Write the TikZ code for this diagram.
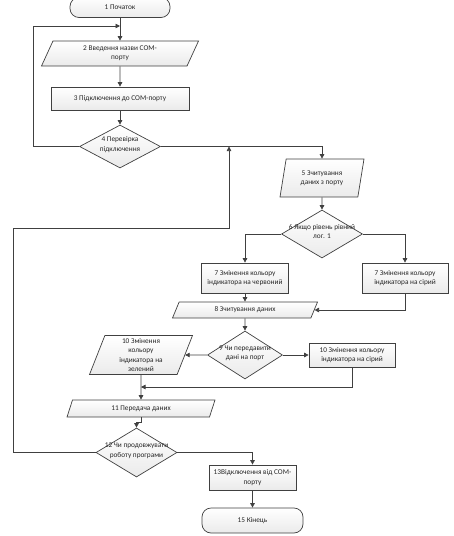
\documentclass[tikz,border=0pt]{standalone}
\usepackage{fontspec}
\setmainfont{Carlito}
\usetikzlibrary{shapes.geometric,arrows.meta}

\definecolor{edgegray}{HTML}{404040}
\newcommand{\dtext}[1]{\smash{\makebox[0pt]{\begin{tabular}{@{}c@{}}#1\end{tabular}}}}
\tikzset{
    blk/.style={draw=edgegray, line width=0.7pt, top color=white, bottom color=gray!16,
        font=\fontsize{7.3}{9.3}\selectfont, text=black!85, align=center, inner sep=0pt},
    proc/.style={blk, rectangle},
    io/.style={blk, trapezium, trapezium stretches body},
    decide/.style={blk, diamond},
    term/.style={blk, rectangle, rounded corners=9pt},
    flow/.style={draw=edgegray, line width=0.7pt, -{Triangle[width=4.5pt,length=4.5pt]}}
}

\begin{document}
\begin{tikzpicture}[x=1pt,y=-1pt]
            \useasboundingbox (0,0) rectangle (454,536);
            \node[term, minimum width=100pt, minimum height=20pt] (start) at (120,7.5) {1 Початок};
            \node[io, trapezium left angle=53, trapezium right angle=127,
                minimum width=157pt, minimum height=25pt] (n2) at (120,53.5) {2 Введення назви COM-\\порту};
            \node[proc, minimum width=138pt, minimum height=23pt] (n3) at (120,98.5) {3 Підключення до COM-порту};
            \node[decide, minimum width=81pt, minimum height=43pt] (d4) at (120,146.5) {\dtext{4 Перевірка\\підключення}};
            \node[io, trapezium left angle=68, trapezium right angle=112,
                minimum width=84pt, minimum height=38pt] (n5) at (322,178) {5 Зчитування\\даних з порту};
            \node[decide, minimum width=81pt, minimum height=48pt] (d6) at (322,234) {\dtext{6 Якщо рівень рівний\\лог. 1}};
            \node[proc, minimum width=87pt, minimum height=30pt] (n7a) at (245,278) {7 Змінення кольору\\індикатора на червоний};
            \node[proc, minimum width=86pt, minimum height=30pt] (n7b) at (405,278) {7 Змінення кольору\\індикатора на сірий};
            \node[io, trapezium left angle=43, trapezium right angle=137,
                minimum width=145pt, minimum height=16pt] (n8) at (245,310) {8 Зчитування даних};
            \node[decide, minimum width=75pt, minimum height=48pt] (d9) at (245,355) {\dtext{9 Чи передавити\\дані на порт}};
            \node[io, trapezium left angle=65, trapezium right angle=115,
                minimum width=103pt, minimum height=39pt] (n10a) at (141,355) {10 Змінення\\кольору\\індикатора на\\зелений};
            \node[proc, minimum width=86pt, minimum height=24pt] (n10b) at (352,355) {10 Змінення кольору\\індикатора на сірий};
            \node[io, trapezium left angle=47, trapezium right angle=133,
                minimum width=148pt, minimum height=17pt] (n11) at (141,408.5) {11 Передача даних};
            \node[decide, minimum width=81pt, minimum height=49pt] (d12) at (136.5,452.5) {\dtext{12 Чи продовжувати\\роботу програми}};
            \node[proc, minimum width=87pt, minimum height=25pt] (n13) at (252.5,477.5) {13Відключення від COM-\\порту};
            \node[term, minimum width=101pt, minimum height=25pt] (stop) at (252.5,520.5) {15 Кінець};

            \coordinate (j1) at (120,26);
            \coordinate (j2) at (141,387);
            \coordinate (j3) at (229,146.5);
            \coordinate (k1) at (229,228);

            \draw[flow] (start) -- (n2);
            \draw[flow] (n2) -- (n3);
            \draw[flow] (n3) -- (d4);
            \draw[flow] (d4.west) -- ++(-45.5,0) |- (j1);
            \draw[flow] (d4.east) -| (n5.north);
            \draw[flow] (n5) -- (d6);
            \draw[flow] (d6.west) -| (n7a.north);
            \draw[flow] (d6.east) -| (n7b.north);
            \draw[flow] (n7a) -- (n8);
            \draw[flow] (n7b.south) |- (n8.east);
            \draw[flow] (n8) -- (d9);
            \draw[flow] (d9.west) -- (n10a.east);
            \draw[flow] (d9.east) -- (n10b.west);
            \draw[flow] (n10b.south) |- (j2);
            \draw[flow] (n10a) -- (n11);
            \draw[flow] (n11.south) -- ++(0,5) -| (d12.north);
            \draw[flow] (d12.west) -- ++(-82,0) |- (k1) -- (j3);
            \draw[flow] (d12.east) -| (n13.north);
            \draw[flow] (n13) -- (stop);
\end{tikzpicture}
\end{document}
